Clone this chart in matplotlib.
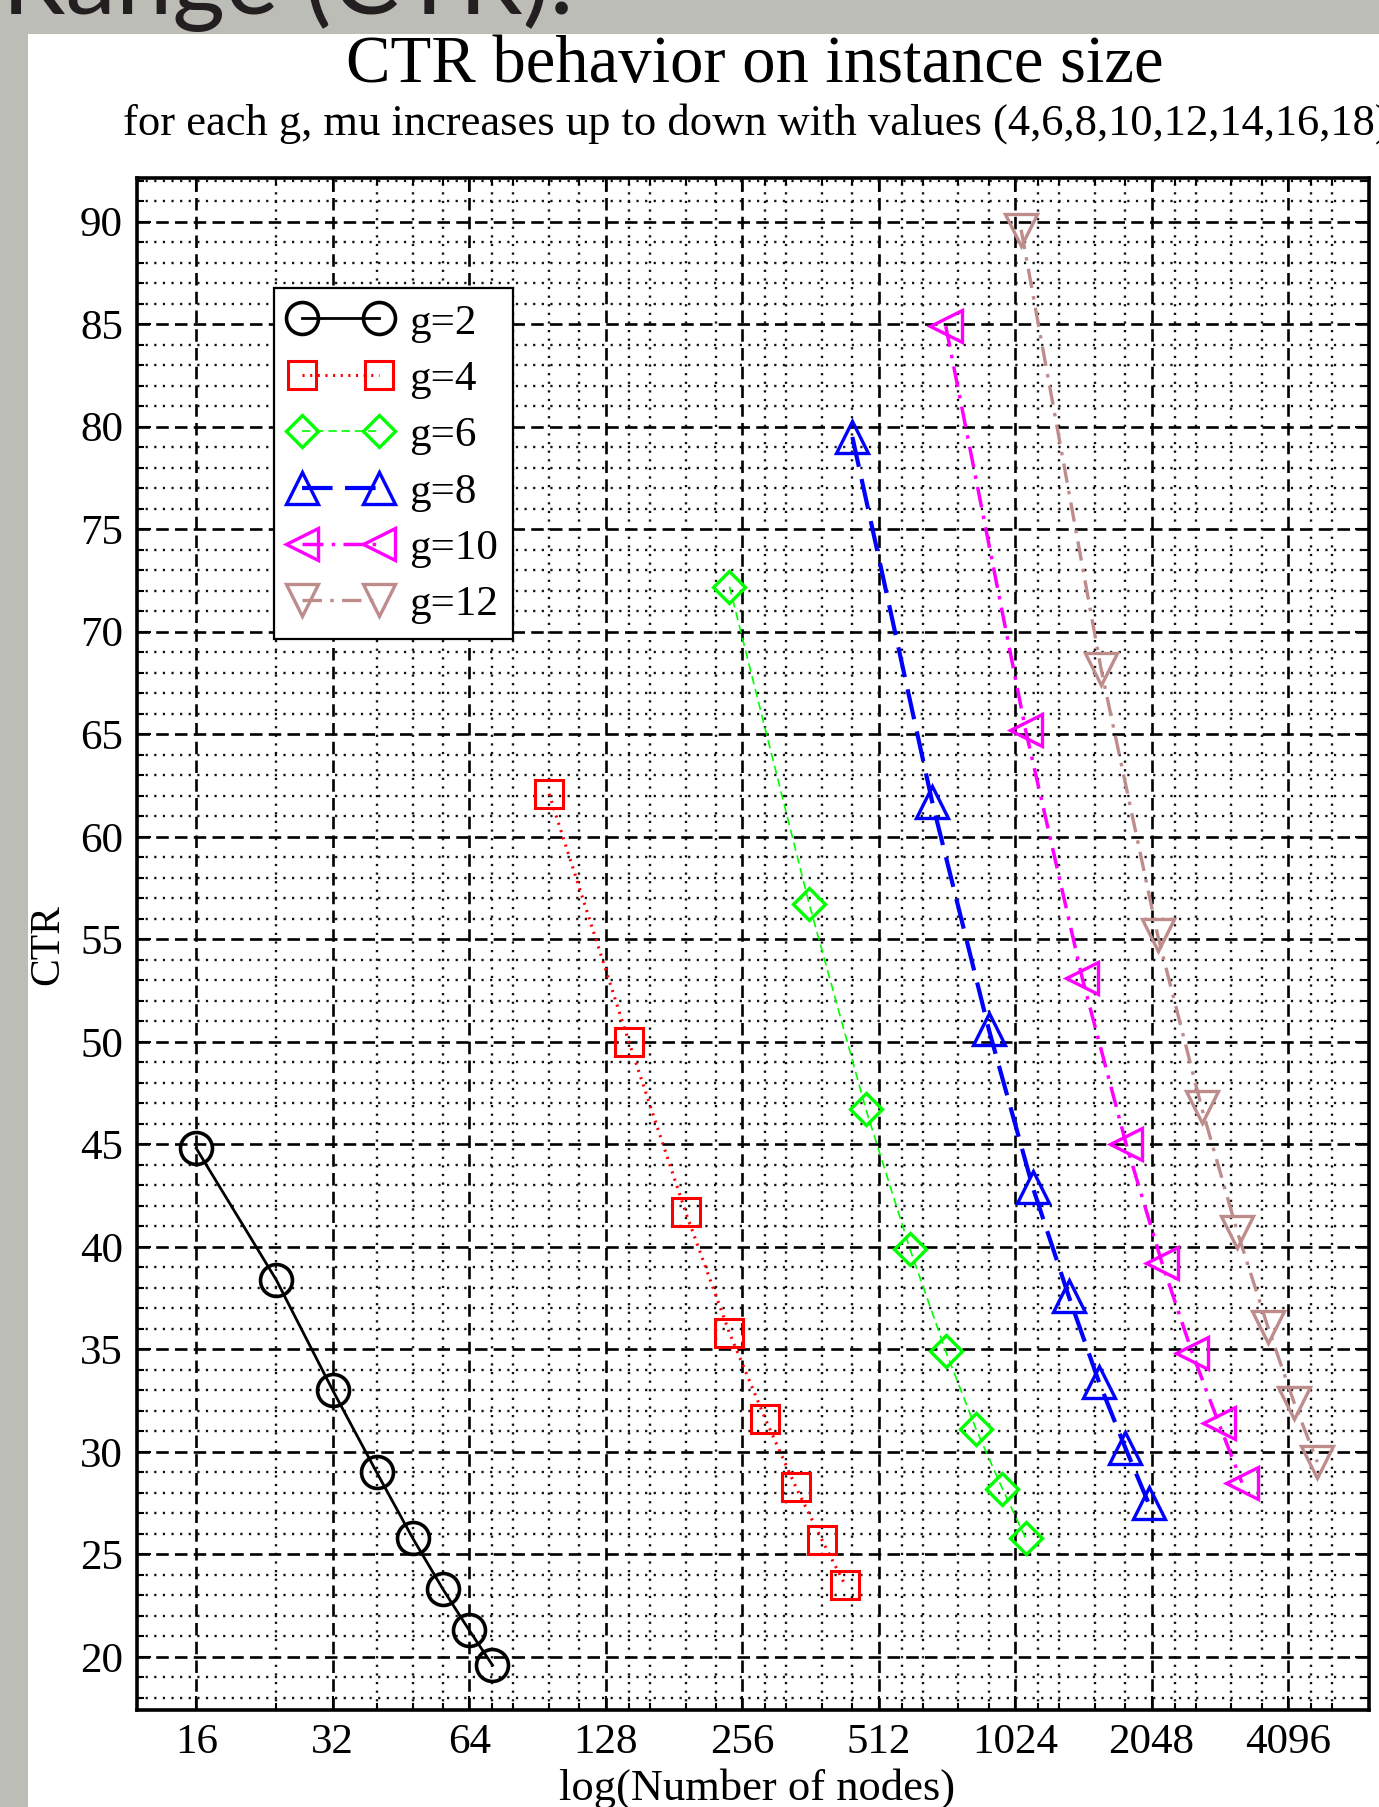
import matplotlib.pyplot as plt
import matplotlib.ticker as mticker
from matplotlib.patches import Rectangle

plt.rcParams['font.family'] = ['Liberation Serif', 'DejaVu Serif']
plt.rcParams['lines.scale_dashes'] = False

# number of nodes for each g (mu = 4,6,...,18) and the CTR values
nodes_g2 = [16, 24, 32, 40, 48, 56, 64, 72]
nodes_g4 = [96, 144, 192, 240, 288, 336, 384, 432]
nodes_g6 = [240, 360, 480, 600, 720, 840, 960, 1080]
nodes_g8 = [448, 672, 896, 1120, 1344, 1568, 1792, 2016]
nodes_g10 = [720, 1080, 1440, 1800, 2160, 2520, 2880, 3240]
nodes_g12 = [1056, 1584, 2112, 2640, 3168, 3696, 4224, 4752]

ctr_g2 = [44.8, 38.4, 33.0, 29.0, 25.8, 23.3, 21.3, 19.6]
ctr_g4 = [62.1, 50.0, 41.7, 35.8, 31.6, 28.3, 25.7, 23.5]
ctr_g6 = [72.2, 56.7, 46.7, 39.9, 34.9, 31.1, 28.2, 25.8]
ctr_g8 = [79.5, 61.7, 50.6, 42.9, 37.6, 33.4, 30.2, 27.5]
ctr_g10 = [84.9, 65.2, 53.1, 45.0, 39.2, 34.8, 31.4, 28.5]
ctr_g12 = [89.6, 68.2, 55.2, 46.8, 40.7, 36.1, 32.4, 29.5]

x_ticks = [16, 32, 64, 128, 256, 512, 1024, 2048, 4096]
x_minor = [24, 40, 48, 56,
           72, 80, 96, 112, 144, 160, 192, 224, 288, 320, 384, 448,
           576, 640, 768, 896, 1152, 1280, 1536, 1792,
           2304, 2560, 3072, 3584, 4608, 5120]
y_ticks = list(range(20, 95, 5))
y_minor = list(range(18, 93))

fig = plt.figure(figsize=(13.79, 18.07), dpi=100)
fig.patch.set_facecolor('#bbbdb6')
fig.add_artist(Rectangle((28 / 1379, 0), 1, 1 - 34 / 1807, transform=fig.transFigure,
                         facecolor='white', edgecolor='none', zorder=0))

fig.text(2 / 1379, 1 - 14 / 1807, 'Range (CTR).', fontsize=73, family=['Lato', 'DejaVu Sans'],
         color='#231f20', va='baseline', ha='left')
fig.text(755 / 1379, 1 - 82 / 1807, 'CTR behavior on instance size', fontsize=48,
         ha='center', va='baseline')
fig.text(756 / 1379, 1 - 135 / 1807,
         'for each g, mu increases up to down with values (4,6,8,10,12,14,16,18)',
         fontsize=32, ha='center', va='baseline')

ax = fig.add_axes([137 / 1379, 1 - 1710 / 1807, (1369 - 137) / 1379, (1710 - 178) / 1807])
ax.set_xscale('log', base=2)

ax.plot(nodes_g2, ctr_g2, color='black', ls='-', lw=2, marker='o', ms=23, mfc='none', mew=2.6, label='g=2')
ax.plot(nodes_g4, ctr_g4, color='red', ls=(0, (1.5, 4)), lw=2.2, marker='s', ms=20, mfc='none', mew=2.2, label='g=4')
ax.plot(nodes_g6, ctr_g6, color='#00ff00', ls=(0, (6, 3.5)), lw=1.2, marker='D', ms=16, mfc='none', mew=2.4, label='g=6')
ax.plot(nodes_g8, ctr_g8, color='blue', ls=(0, (22, 9)), lw=3, marker='^', ms=23, mfc='none', mew=2.4, label='g=8')
ax.plot(nodes_g10, ctr_g10, color='magenta', ls=(0, (15, 6, 2.5, 6)), lw=2.5, marker='<', ms=23, mfc='none', mew=2.4, label='g=10')
ax.plot(nodes_g12, ctr_g12, color='#bf8c8c', ls=(0, (14, 6, 2.5, 6)), lw=2.4, marker='v', ms=23, mfc='none', mew=2.4, label='g=12')

ax.set_xlim(11.84, 6178)
ax.set_ylim(17.41, 92.13)
ax.xaxis.set_major_locator(mticker.FixedLocator(x_ticks))
ax.xaxis.set_major_formatter(mticker.FixedFormatter([str(v) for v in x_ticks]))
ax.xaxis.set_minor_locator(mticker.FixedLocator(x_minor))
ax.xaxis.set_minor_formatter(mticker.NullFormatter())
ax.yaxis.set_major_locator(mticker.FixedLocator(y_ticks))
ax.yaxis.set_minor_locator(mticker.FixedLocator(y_minor))

ax.grid(which='major', color='black', ls=(0, (9, 4.5)), lw=1.9)
ax.grid(which='minor', color='#111111', ls=(0, (1.6, 4.6)), lw=1.7)
ax.tick_params(which='both', direction='in', top=True, right=True, width=1.5)
ax.tick_params(which='major', length=10, labelsize=31, pad=10)
ax.tick_params(which='minor', length=5)
for s in ax.spines.values():
    s.set_linewidth(2.6)

fig.text(48 / 1379, 1 - 945 / 1807, 'CTR', rotation=90, fontsize=30, ha='center', va='center')
fig.text(757 / 1379, 1 - 1800 / 1807, 'log(Number of nodes)', fontsize=32, ha='center', va='baseline')

leg = ax.legend(loc='upper left', bbox_to_anchor=(0.111, 0.928), borderaxespad=0, numpoints=2,
                fontsize=31, fancybox=False, edgecolor='black', framealpha=1,
                handlelength=2.4, handletextpad=0.4, labelspacing=0.4, borderpad=0.35)
leg.get_frame().set_linewidth(1.6)

fig.savefig('out.png', dpi=100, facecolor=fig.get_facecolor())
